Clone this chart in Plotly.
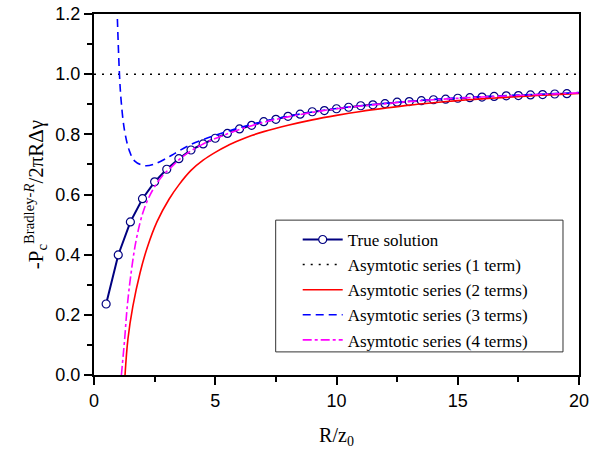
import plotly.graph_objects as go

# True solution (markers)
true_x = [0.5, 1.0, 1.5, 2.0, 2.5, 3.0, 3.5, 4.0, 4.5, 5.0, 5.5, 6.0, 6.5, 7.0, 7.5,
          8.0, 8.5, 9.0, 9.5, 10.0, 10.5, 11.0, 11.5, 12.0, 12.5, 13.0, 13.5, 14.0,
          14.5, 15.0, 15.5, 16.0, 16.5, 17.0, 17.5, 18.0, 18.5, 19.0, 19.5]
true_y = [0.236, 0.399, 0.509, 0.586, 0.642, 0.684, 0.719, 0.748, 0.768, 0.787,
          0.803, 0.818, 0.830, 0.842, 0.850, 0.860, 0.867, 0.875, 0.879, 0.885,
          0.890, 0.895, 0.898, 0.902, 0.907, 0.909, 0.912, 0.915, 0.917, 0.920,
          0.922, 0.924, 0.926, 0.928, 0.929, 0.931, 0.932, 0.934, 0.935]

# Asymptotic series (1 term)
t1_x = [0, 20]
t1_y = [1.0, 1.0]

# Asymptotic series (2 terms)
t2_x = [1.28, 1.4, 1.6, 1.9, 2.2, 2.6, 3.1, 3.5, 4.0, 4.5, 5.0, 5.5, 6.0, 6.5, 7.0,
        8.0, 9.0, 10.0, 11.0, 12.0, 13.0, 14.0, 15.0, 16.0, 17.0, 18.0, 19.0, 20.0]
t2_y = [0.0, 0.12, 0.227, 0.34, 0.425, 0.51, 0.585, 0.632, 0.680, 0.714, 0.740,
        0.762, 0.780, 0.796, 0.809, 0.830, 0.848, 0.863, 0.876, 0.887, 0.897,
        0.905, 0.912, 0.918, 0.923, 0.928, 0.932, 0.936]

# Asymptotic series (3 terms)
t3_x = [0.93, 1.05, 1.12, 1.26, 1.46, 1.67, 2.08, 2.49, 3.04, 3.32, 3.94, 4.9,
        6.0, 7.0, 8.0, 9.0, 10.0, 12.0, 14.0, 16.0, 18.0, 20.0]
t3_y = [1.27, 1.0, 0.911, 0.812, 0.745, 0.712, 0.696, 0.701, 0.723, 0.736, 0.764,
        0.794, 0.822, 0.843, 0.860, 0.874, 0.886, 0.903, 0.916, 0.925, 0.932, 0.939]

# Asymptotic series (4 terms)
t4_x = [1.13, 1.26, 1.37, 1.51, 1.74, 2.05, 2.42, 2.8, 3.2, 3.6, 4.0, 4.5, 5.0,
        6.0, 7.0, 8.0, 9.0, 10.0, 12.0, 14.0, 16.0, 18.0, 20.0]
t4_y = [0.0, 0.116, 0.227, 0.327, 0.449, 0.548, 0.615, 0.66, 0.692, 0.722, 0.745,
        0.768, 0.786, 0.816, 0.840, 0.858, 0.873, 0.885, 0.902, 0.915, 0.924,
        0.931, 0.938]

x_ticks = [0, 5, 10, 15, 20]
y_ticks = [0.0, 0.2, 0.4, 0.6, 0.8, 1.0, 1.2]

SERIF = "Liberation Serif, Times New Roman, serif"
SANS = "Liberation Sans, Arial, sans-serif"

fig = go.Figure()
fig.add_trace(go.Scatter(
    x=true_x, y=true_y, mode="lines+markers", name="True solution",
    line=dict(color="#000080", width=2),
    marker=dict(symbol="circle", size=8, color="white",
                line=dict(color="#000080", width=1.2))))
fig.add_trace(go.Scatter(
    x=t1_x, y=t1_y, mode="lines", name="Asymtotic series (1 term)",
    line=dict(color="black", width=1.5, dash="2px,6px")))
fig.add_trace(go.Scatter(
    x=t2_x, y=t2_y, mode="lines", name="Asymtotic series (2 terms)",
    line=dict(color="#ff0000", width=1.6, shape="spline")))
fig.add_trace(go.Scatter(
    x=t3_x, y=t3_y, mode="lines", name="Asymtotic series (3 terms)",
    line=dict(color="#0000ff", width=1.6, dash="8px,5px", shape="spline")))
fig.add_trace(go.Scatter(
    x=t4_x, y=t4_y, mode="lines", name="Asymtotic series (4 terms)",
    line=dict(color="#ff00ff", width=1.6, dash="dashdot", shape="spline")))

axis_common = dict(showgrid=False, zeroline=False, showline=True, linecolor="black",
                   linewidth=2, mirror=True, ticks="outside", ticklen=8, tickwidth=1.5,
                   tickcolor="black", automargin=False,
                   tickfont=dict(family=SANS, size=18, color="black"))

fig.update_xaxes(range=[0, 20], tickvals=x_ticks, ticktext=[str(v) for v in x_ticks],
                 minor=dict(ticks="outside", ticklen=5, dtick=2.5, tickcolor="black",
                            tickwidth=1.5),
                 title=dict(text="R/z<sub>0</sub>", font=dict(family=SERIF, size=20, color="black"),
                            standoff=18),
                 **axis_common)
fig.update_yaxes(range=[0, 1.2], tickvals=y_ticks, ticktext=[f"{v:.1f}" for v in y_ticks],
                 minor=dict(ticks="outside", ticklen=5, dtick=0.1, tickcolor="black",
                            tickwidth=1.5),
                 title=dict(text="-P<sub>c</sub><sup>Bradley-<i>R</i></sup>/2πRΔγ",
                            font=dict(family=SERIF, size=21, color="black"), standoff=6),
                 **axis_common)

# legend frame
fig.add_shape(type="rect", xref="paper", yref="paper",
              x0=0.3746, x1=0.967, y0=0.064, y1=0.429,
              line=dict(color="#333", width=1), fillcolor="white", layer="below")

fig.update_layout(
    width=590, height=452,
    margin=dict(l=94, r=11, t=14, b=77),
    paper_bgcolor="white", plot_bgcolor="white",
    showlegend=True,
    legend=dict(x=0.42, y=0.424, xanchor="left", yanchor="top",
                bgcolor="rgba(0,0,0,0)", borderwidth=0,
                font=dict(family=SERIF, size=17, color="black"),
                itemwidth=40, tracegroupgap=0),
)

fig.write_html("out.html")
